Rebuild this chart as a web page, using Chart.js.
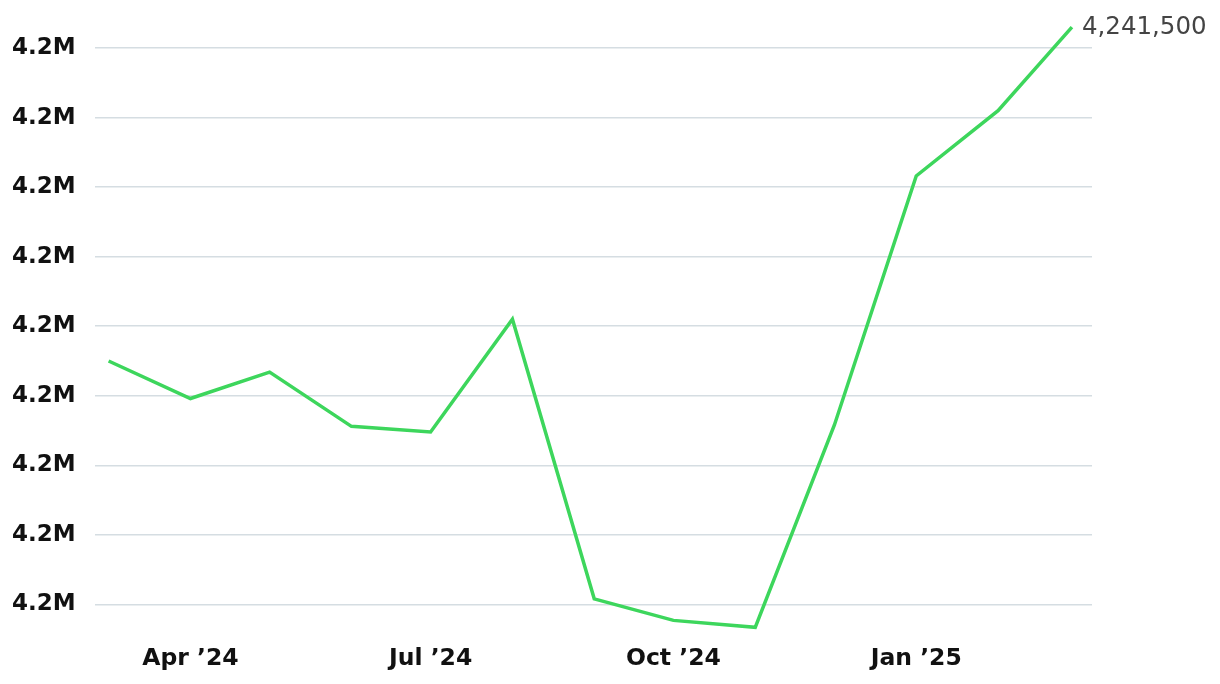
<!DOCTYPE html>
<html>
<head>
<meta charset="utf-8">
<script src="https://cdn.jsdelivr.net/npm/chart.js@4"></script>
<style>
  html, body { margin: 0; padding: 0; background: #fff; }
  #wrap { width: 1220px; height: 684px; position: relative; }
</style>
</head>
<body>
<div id="wrap"><canvas id="chart" width="1220" height="684"></canvas></div>
<script>
// monthly values, Mar '24 .. Mar '25 (x axis is time based, in days)
const dates = ['2024-03-01', '2024-04-01', '2024-05-01', '2024-06-01', '2024-07-01', '2024-08-01', '2024-09-01',
               '2024-10-01', '2024-11-01', '2024-12-01', '2025-01-01', '2025-02-01', '2025-03-01'];
const values = [4217500, 4214800, 4216700, 4212800, 4212400, 4220500, 4200400,
                4198850, 4198350, 4212900, 4230800, 4235500, 4241500];
const yTicks = [4200000, 4205000, 4210000, 4215000, 4220000, 4225000, 4230000, 4235000, 4240000];
const xTickDates = ['2024-04-01', '2024-07-01', '2024-10-01', '2025-01-01'];
const xTickLabels = ["Apr \u201924", "Jul \u201924", "Oct \u201924", "Jan \u201925"];

const DAY = 86400000;
const t0 = Date.parse(dates[0]);
const dayOf = (d) => Math.round((Date.parse(d) - t0) / DAY);
const xTickDays = xTickDates.map(dayOf);

const FONT = "'DejaVu Sans', sans-serif";

const endLabel = {
    id: 'endLabel',
    afterDatasetsDraw(chart) {
        const meta = chart.getDatasetMeta(0);
        const pt = meta.data[meta.data.length - 1];
        const ctx = chart.ctx;
        ctx.save();
        ctx.font = "24.5px " + FONT;
        ctx.fillStyle = '#444';
        ctx.textBaseline = 'middle';
        ctx.fillText(values[values.length - 1].toLocaleString('en-US'), pt.x + 10, pt.y);
        ctx.restore();
    }
};

// keep label overhang from pushing the plot area around
function noPad(scale) {
    scale.paddingTop = 0;
    scale.paddingBottom = 0;
    scale.paddingLeft = 0;
    scale.paddingRight = 0;
}

new Chart(document.getElementById('chart'), {
    type: 'line',
    data: {
        datasets: [{
            data: values.map((v, i) => ({ x: dayOf(dates[i]), y: v })),
            borderColor: '#3dd65c',
            borderWidth: 3.5,
            pointRadius: 0,
            tension: 0,
            fill: false
        }]
    },
    options: {
        responsive: false,
        animation: false,
        maintainAspectRatio: false,
        layout: { padding: { left: -7, right: 128, top: 20.2, bottom: -2 } },
        plugins: { legend: { display: false }, tooltip: { enabled: false } },
        scales: {
            x: {
                type: 'linear',
                min: -5.3,
                max: 372.6,
                afterBuildTicks(scale) { scale.ticks = xTickDays.map(v => ({ value: v })); },
                afterFit: noPad,
                grid: { display: false, drawTicks: false },
                border: { display: false },
                ticks: {
                    padding: 12.8,
                    maxRotation: 0,
                    color: '#111',
                    font: { family: FONT, size: 23.5, weight: 'bold' },
                    callback: (v) => xTickLabels[xTickDays.indexOf(v)]
                }
            },
            y: {
                min: 4198000,
                max: 4242000,
                afterBuildTicks(scale) { scale.ticks = yTicks.map(v => ({ value: v })); },
                afterFit: noPad,
                grid: { color: '#d5dde2', lineWidth: 1.5, drawTicks: false },
                border: { display: false },
                ticks: {
                    padding: 19,
                    color: '#111',
                    font: { family: FONT, size: 23, weight: 'bold' },
                    callback: (v) => (v / 1e6).toFixed(1) + 'M'
                }
            }
        }
    },
    plugins: [endLabel]
});
</script>
</body>
</html>
